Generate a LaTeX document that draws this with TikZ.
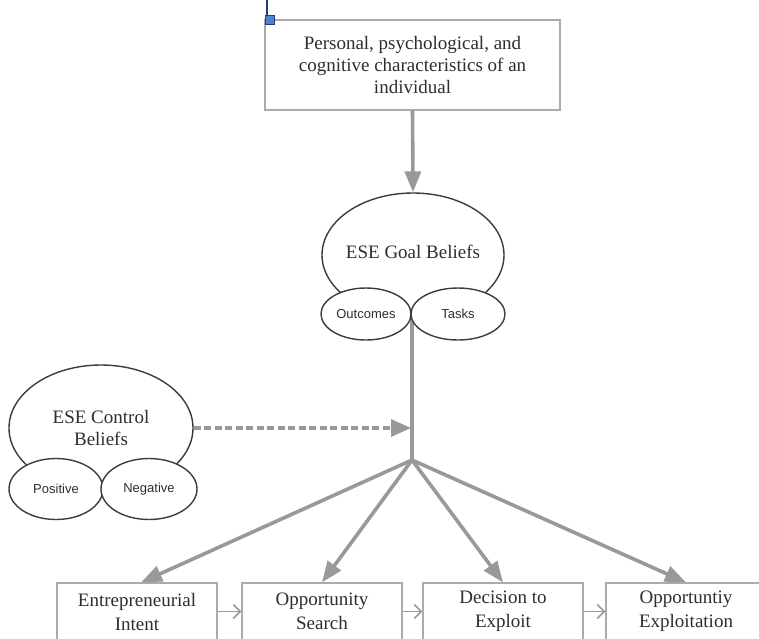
\documentclass[tikz,border=0pt]{standalone}
\usepackage{fontspec}
\setmainfont{Liberation Serif}
\setsansfont{Liberation Sans}
\usetikzlibrary{arrows.meta,shapes.geometric}
\definecolor{arrgray}{HTML}{999999}
\definecolor{boxgray}{HTML}{ABABAB}
\definecolor{ellgray}{HTML}{3C3C3C}
\definecolor{txtgray}{HTML}{2E2E2E}
\definecolor{selblue}{RGB}{80,130,205}
\definecolor{seldark}{RGB}{35,60,120}
\tikzset{
  boxnode/.style={draw=boxgray, line width=1.2pt, fill=white, minimum width=160pt, minimum height=57pt, inner sep=0pt, align=center, text=txtgray, font=\fontsize{19}{24}\selectfont},
  bigell/.style={ellipse, draw=ellgray, line width=1.4pt, fill=white, inner sep=0pt},
  smallell/.style={ellipse, draw=ellgray, line width=1.4pt, fill=white, inner sep=0pt, text=txtgray, font=\sffamily\fontsize{13}{15}\selectfont},
  elltext/.style={align=center, text=txtgray, font=\fontsize{19}{22}\selectfont, inner sep=0pt},
  thickarr/.style={draw=arrgray, line width=3.6pt, -{Triangle[length=21pt,width=16pt]}},
  thinarr/.style={draw=arrgray, line width=1.8pt, -{Straight Barb[length=7pt,width=14pt,line width=1.6pt]}},
  dasharr/.style={draw=arrgray, line width=3.4pt, dash pattern=on 7pt off 3.5pt, -{Triangle[length=20pt,width=17pt]}}
}
\begin{document}
\begin{tikzpicture}[x=1pt,y=-1pt]
\useasboundingbox (0,0) rectangle (759,638);
\fill[white] (0,0) rectangle (759,638);

% top box
\node[draw=boxgray, line width=1.2pt, fill=white, minimum width=295pt, minimum height=90pt, inner sep=0pt, align=center, text=txtgray, font=\fontsize{19}{22}\selectfont] (top) at (412.5,65) {Personal, psychological, and\\cognitive characteristics of an\\individual};
\coordinate (selTop) at (267,0);
\node[draw=seldark, fill=selblue, line width=0.8pt, minimum size=9pt, inner sep=0pt] (sel) at (270,20) {};
\draw[seldark, line width=1.2pt] (selTop) -- (selTop |- sel.north);

% vertical trunk and fan point
\coordinate (trunkTop) at (412,314);
\coordinate (fan) at (412,460);
\draw[arrgray, line width=3.6pt] (trunkTop) -- (fan);

% goal beliefs
\node[bigell, minimum width=182pt, minimum height=124pt] (goal) at (413,255) {};
\node[elltext] (goalT) at (413,252) {ESE Goal Beliefs};
\node[smallell, minimum width=90pt, minimum height=52pt] (outc) at (366,314) {Outcomes};
\node[smallell, minimum width=94pt, minimum height=52pt] (tasks) at (458,314) {Tasks};

% control beliefs
\node[bigell, minimum width=184pt, minimum height=126pt] (ctrl) at (101,428) {};
\node[elltext] (ctrlT) at (101,428) {ESE Control\\Beliefs};
\node[smallell, minimum width=94pt, minimum height=61pt] (pos) at (56,489) {Positive};
\node[smallell, minimum width=96pt, minimum height=61pt] (neg) at (149,489) {Negative};

% bottom boxes
\node[boxnode] (b1) at (137,611.5) {Entrepreneurial\\Intent};
\node[boxnode] (b2) at (322,611.5) {Opportunity\\Search};
\node[boxnode] (b3) at (503,611.5) {Decision to\\Exploit};
\node[boxnode] (b4) at (686,611.5) {Opportuntiy\\Exploitation};

% arrows
\draw[thickarr] (top.south) -- (goal.north);
\coordinate (dashEnd) at (411,428);
\draw[dasharr] (ctrl.east) -- (dashEnd);
\draw[thickarr] (fan) -- ([xshift=4pt]b1.north);
\draw[thickarr] (fan) -- (b2.north);
\draw[thickarr] (fan) -- (b3.north);
\draw[thickarr] (fan) -- (b4.north);
\draw[thinarr] (b1.east) -- (b2.west);
\draw[thinarr] (b2.east) -- (b3.west);
\draw[thinarr] (b3.east) -- (b4.west);
\end{tikzpicture}
\end{document}
